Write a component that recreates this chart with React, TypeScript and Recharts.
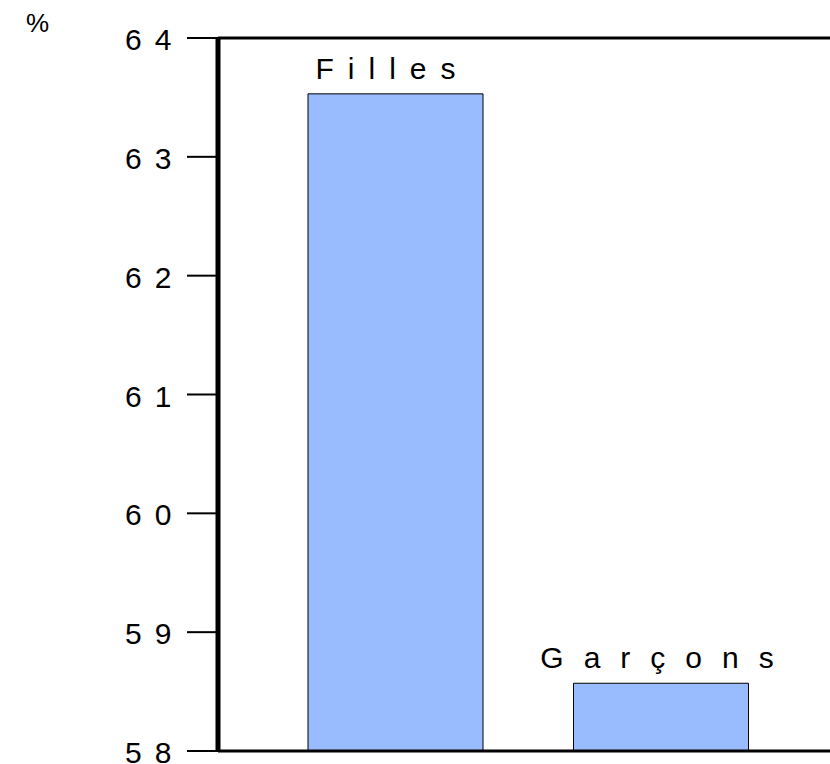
import React from "react";
import { BarChart, Bar, XAxis, YAxis, ReferenceLine, LabelList } from "recharts";

const categories = ["Filles", "Garçons"];
const values = [63.53, 58.57];
const yTicks = [58, 59, 60, 61, 62, 63, 64];
const unitLabel = "%";

const data = categories.map((name, i) => ({ name, value: values[i] }));

const FONT = "'Liberation Sans', Arial, sans-serif";
const labelStyles = [
  { sp: 14, dx: -10 },
  { sp: 20, dx: -4 },
];

const YTick = (props: any) => {
  const { x, y, payload } = props;
  return (
    <text
      x={x - 60}
      y={y + 12}
      textAnchor="start"
      fontFamily={FONT}
      fontSize={30}
      letterSpacing={13}
      fill="#000"
    >
      {String(payload.value)}
    </text>
  );
};

const BarLabel = (props: any) => {
  const { x, y, width, value, index } = props;
  const st = labelStyles[index] ?? { sp: 15, dx: 0 };
  return (
    <text
      x={Number(x) + Number(width) / 2 + st.sp / 2 + st.dx}
      y={Number(y) - 15}
      textAnchor="middle"
      fontFamily={FONT}
      fontSize={30}
      letterSpacing={st.sp}
      fill="#000"
    >
      {value}
    </text>
  );
};

export default function App() {
  return (
    <div style={{ position: "absolute", left: 0, top: 0, background: "#fff" }}>
      <BarChart
        width={830}
        height={764}
        data={data}
        margin={{ top: 38, right: 0, bottom: 12, left: 0 }}
        barCategoryGap={0}
      >
        <XAxis
          dataKey="name"
          type="category"
          tick={false}
          height={1}
          tickLine={false}
          padding={{ left: 45, right: 36 }}
          axisLine={{ stroke: "#000", strokeWidth: 3 }}
        />
        <YAxis
          type="number"
          domain={[58, 64]}
          ticks={yTicks}
          allowDataOverflow
          width={218}
          tickSize={31}
          tickMargin={2}
          tickLine={{ stroke: "#000", strokeWidth: 2 }}
          axisLine={{ stroke: "#000", strokeWidth: 5 }}
          tick={<YTick />}
          label={{
            content: () => (
              <text x={26} y={32} fontFamily={FONT} fontSize={26} fill="#000">
                {unitLabel}
              </text>
            ),
          }}
        />
        <ReferenceLine y={64} stroke="#000" strokeWidth={3} ifOverflow="extendDomain" />
        <Bar
          dataKey="value"
          fill="#99BBFF"
          stroke="#000"
          strokeWidth={1}
          barSize={175}
          isAnimationActive={false}
        >
          <LabelList dataKey="name" content={<BarLabel />} />
        </Bar>
      </BarChart>
    </div>
  );
}
